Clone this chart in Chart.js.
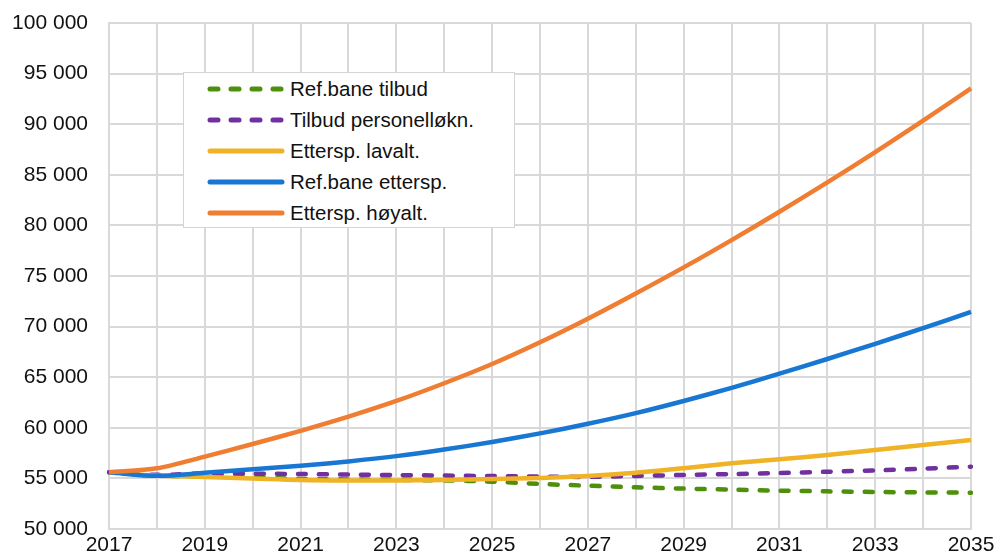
<!DOCTYPE html>
<html>
<head>
<meta charset="utf-8">
<script src="https://cdn.jsdelivr.net/npm/chart.js@4/dist/chart.umd.min.js"></script>
<style>
  html, body { margin: 0; padding: 0; background: #fff; }
  #wrap { position: relative; width: 1000px; height: 555px; }
  #legend {
    position: absolute; left: 183px; top: 72px; width: 332px; height: 156px;
    background: #fff; border: 1px solid #d4d4d4; box-sizing: border-box;
    font-family: "Liberation Sans", Arial, sans-serif; font-size: 20.5px; color: #111;
    padding-top: 0px;
  }
  #legend .row { display: flex; align-items: center; height: 31px; }
  #legend svg { margin-left: 22px; margin-right: 4px; }
</style>
</head>
<body>
<div id="wrap">
  <canvas id="c" width="1000" height="555"></canvas>
  <div id="legend"></div>
</div>
<script>
const years = ["2017","2018","2019","2020","2021","2022","2023","2024","2025","2026",
  "2027","2028","2029","2030","2031","2032","2033","2034","2035"];
const yTicks = [50000, 55000, 60000, 65000, 70000, 75000, 80000, 85000, 90000, 95000, 100000];

const refTilbud = [55600, 55280, 55200, 55100, 54950, 54900, 54850, 54800, 54680, 54450,
  54280, 54120, 53990, 53890, 53790, 53720, 53660, 53620, 53590];
const tilbudPersonell = [55600, 55350, 55480, 55470, 55430, 55380, 55330, 55280, 55230, 55180,
  55150, 55240, 55340, 55430, 55530, 55660, 55790, 55960, 56160];
const etterspLav = [55600, 55280, 55150, 55000, 54850, 54800, 54800, 54850, 54950, 55050,
  55240, 55560, 56000, 56490, 56890, 57310, 57800, 58300, 58800];
const refEttersp = [55600, 55250, 55550, 55900, 56250, 56680, 57200, 57850, 58600, 59450,
  60400, 61450, 62650, 63950, 65350, 66800, 68300, 69850, 71450];
const etterspHoy = [55600, 56000, 57150, 58400, 59700, 61100, 62650, 64400, 66300, 68450,
  70780, 73270, 75850, 78550, 81350, 84250, 87250, 90350, 93550];

const series = [
  { label: "Ref.bane tilbud", data: refTilbud, color: "#4e8f0c", dash: [8, 13], order: 5 },
  { label: "Tilbud personelløkn.", data: tilbudPersonell, color: "#7030a0", dash: [8, 13], order: 4 },
  { label: "Ettersp. lavalt.", data: etterspLav, color: "#efb325", dash: [], order: 3 },
  { label: "Ref.bane ettersp.", data: refEttersp, color: "#1877d2", dash: [], order: 2 },
  { label: "Ettersp. høyalt.", data: etterspHoy, color: "#ef7d32", dash: [], order: 1 },
];

const fmt = v => String(v).replace(/\B(?=(\d{3})+(?!\d))/g, " ");
const font = { family: "'Liberation Sans', Arial, sans-serif", size: 21 };

new Chart(document.getElementById("c"), {
  type: "line",
  data: {
    labels: years,
    datasets: series.map(s => ({
      label: s.label,
      data: s.data,
      borderColor: s.color,
      backgroundColor: s.color,
      borderWidth: 4.5,
      borderDash: s.dash,
      borderCapStyle: s.dash.length ? "round" : "butt",
      pointRadius: 0,
      tension: 0.3,
      order: s.order,
    })),
  },
  options: {
    responsive: false,
    animation: false,
    layout: { padding: { top: 23, right: 29, left: 0, bottom: 0 } },
    plugins: { legend: { display: false }, tooltip: { enabled: false } },
    scales: {
      x: {
        grid: { color: "#d9d9d9", lineWidth: 2, drawTicks: false },
        border: { color: "#d9d9d9", width: 2 },
        ticks: {
          autoSkip: false, maxRotation: 0, padding: 4, color: "#111", font: font,
          callback: (v, i) => (i % 2 === 0 ? years[i] : ""),
        },
        afterFit: a => { a.height = 26; },
      },
      y: {
        min: 50000, max: 100000,
        afterBuildTicks: a => { a.ticks = yTicks.map(v => ({ value: v })); },
        grid: { color: "#d9d9d9", lineWidth: 2, drawTicks: true, tickLength: 21, tickColor: "rgba(0,0,0,0)" },
        border: { color: "#d9d9d9", width: 2 },
        ticks: { padding: 0, color: "#111", font: font, callback: v => fmt(v) },
        afterFit: a => { a.width = 109; },
      },
    },
  },
});

const legend = document.getElementById("legend");
series.forEach(s => {
  const row = document.createElement("div");
  row.className = "row";
  const dash = s.dash.length ? `stroke-dasharray="8 13" stroke-linecap="round"` : `stroke-linecap="round"`;
  row.innerHTML = `<svg width="80" height="8"><line x1="4" y1="4" x2="76" y2="4" stroke="${s.color}" stroke-width="5" ${dash}/></svg><span>${s.label}</span>`;
  legend.appendChild(row);
});
</script>
</body>
</html>
